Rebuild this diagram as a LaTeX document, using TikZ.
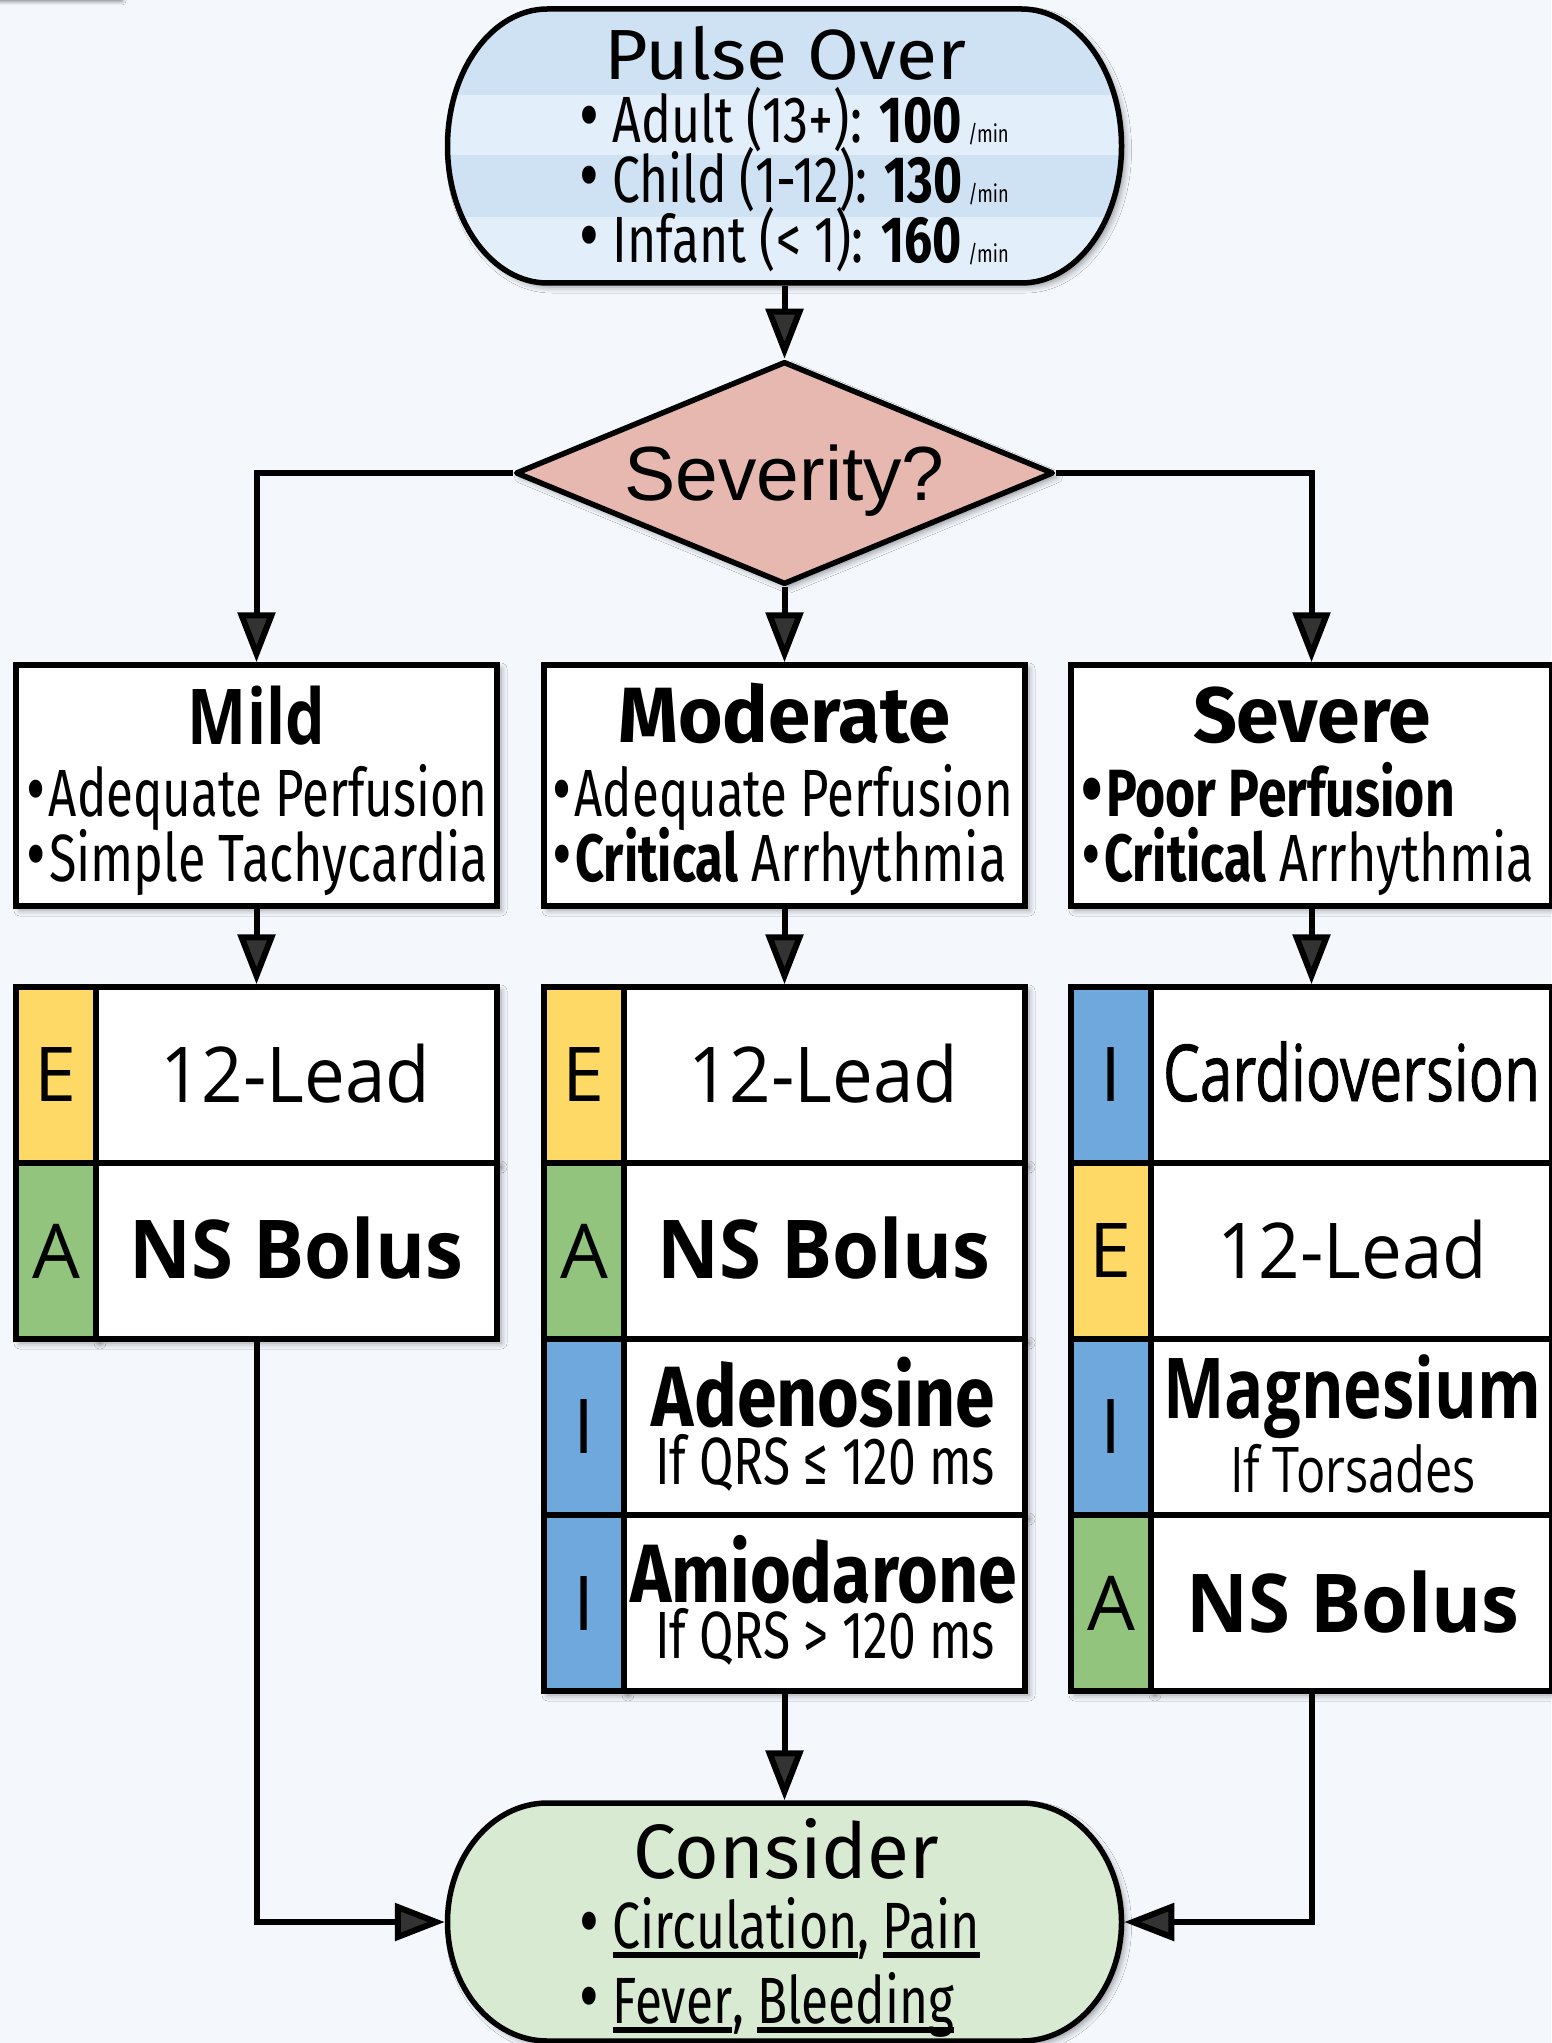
\documentclass[tikz,border=0pt]{standalone}
\usepackage{fontspec}
\usepackage{graphicx}
\usetikzlibrary{arrows.meta,shapes.geometric,shadows.blur}
\newfontfamily\fira{Fira Sans}
\newfontfamily\noto{Open Sans}
\newfontfamily\arialn{Liberation Sans}
\definecolor{bg}{HTML}{F4F8FD}
\definecolor{pdark}{HTML}{CFE2F3}
\definecolor{plight}{HTML}{E2EEF9}
\definecolor{diam}{HTML}{E6B8AF}
\definecolor{cgreen}{HTML}{D9EAD3}
\definecolor{yel}{HTML}{FFD966}
\definecolor{grn}{HTML}{93C47D}
\definecolor{blu}{HTML}{6FA8DC}
% squeeze/stretch a line to a given width, keeping its height
\newcommand\fitto[2]{\resizebox{#1}{\height}{#2}}
\newcommand\fsz[1]{\fontsize{#1}{#1}\selectfont}
\newcommand\ulin[1]{\setbox0=\hbox{#1}\rlap{\rule[-5pt]{\wd0}{3pt}}\box0}
\newcommand\bul{\smash{\fsz{40pt}•}}
\begin{document}
\begin{tikzpicture}[x=0.5pt, y=-0.5pt, line width=2.75pt,
  shad/.style={blur shadow={shadow xshift=2pt, shadow yshift=-2pt, shadow blur radius=3pt, shadow opacity=40}},
  hdr/.style={draw, fill=white, minimum width=240.5pt, minimum height=120.5pt, inner sep=0, shad},
  lcell/.style={draw, minimum width=40pt, minimum height=88pt, inner sep=0, shad, font={\noto\fsz{37.8pt}}},
  tcell/.style={draw, fill=white, minimum width=200.5pt, minimum height=88pt, inner sep=0, shad},
  lbl/.style={inner sep=0, anchor=base},
  lbll/.style={inner sep=0, anchor=base west},
  ghost/.style={inner sep=0, draw=none, fill=none},
  flow/.style={line width=3pt, -{Triangle[length=25pt, width=18.5pt]}}]

\useasboundingbox (0,0) rectangle (1551,2043);
\fill[bg] (0,0) rectangle (1551,2043);
% shadow strip along the top edge
\path[blur shadow={shadow xshift=0pt, shadow yshift=-1.5pt, shadow blur radius=2pt, shadow opacity=55}] (-40,-40) rectangle (122,-2);

% ---------- start terminal ----------
\node[ghost, minimum width=337pt, minimum height=137pt] (pulse) at (784.5,146) {};
\path[shad, fill=pdark] (547.5,9) -- (1021.5,9) arc[start angle=90, end angle=-90, x radius=50pt, y radius=68.5pt]
  -- (547.5,283) arc[start angle=270, end angle=90, x radius=50pt, y radius=68.5pt] -- cycle;
\begin{scope}
  \clip (547.5,9) -- (1021.5,9) arc[start angle=90, end angle=-90, x radius=50pt, y radius=68.5pt]
    -- (547.5,283) arc[start angle=270, end angle=90, x radius=50pt, y radius=68.5pt] -- cycle;
  \fill[plight] (430,95) rectangle (1140,155);
  \fill[plight] (430,217) rectangle (1140,300);
\end{scope}
\draw (547.5,9) -- (1021.5,9) arc[start angle=90, end angle=-90, x radius=50pt, y radius=68.5pt]
  -- (547.5,283) arc[start angle=270, end angle=90, x radius=50pt, y radius=68.5pt] -- cycle;
\node[lbl] (pTitle) at (785,80) {\fitto{181pt}{\fira\fsz{35.5pt}Pulse Over}};
\node[lbll] (pAdult) at (577,143) {\fitto{214.5pt}{\fira\fsz{32.7pt}\bul{} Adult (13+): {\bfseries 100}\kern4pt{\fsz{12pt}/min}}};
\node[lbll] (pChild) at (577,203) {\fitto{214.5pt}{\fira\fsz{32.7pt}\bul{} Child (1-12): {\bfseries 130}\kern4pt{\fsz{12pt}/min}}};
\node[lbll] (pInfant) at (577,263) {\fitto{214.5pt}{\fira\fsz{32.7pt}\bul{} Infant (< 1): {\bfseries 160}\kern4pt{\fsz{12pt}/min}}};

% ---------- decision ----------
\node[draw, shape=diamond, fill=diam, line join=round, minimum width=269pt, minimum height=111.5pt, inner sep=0, shad] (sev) at (784.5,473) {};
\node[lbl] (sevq) at (784.5,501) {\fitto{160pt}{\arialn\fsz{38.4pt}Severity?}};

% ---------- severity headers ----------
\node[hdr] (mild) at (256.5,785.5) {};
\node[hdr] (mod) at (784.5,785.5) {};
\node[hdr] (sevr) at (1311.5,785.5) {};

\node[lbl] (mildH) at (256.5,744) {\fitto{68.5pt}{\noto\bfseries\fsz{38.5pt}Mild}};
\node[lbll] (mildL1) at (24,816) {\fitto{230.5pt}{\fira\fsz{33.4pt}\bul\kern2pt Adequate Perfusion}};
\node[lbll] (mildL2) at (24,881) {\fitto{230.5pt}{\fira\fsz{33.4pt}\bul\kern2pt Simple Tachycardia}};

\node[lbl] (modH) at (784.5,742) {\fitto{166pt}{\fira\bfseries\fsz{39.2pt}Moderate}};
\node[lbll] (modL1) at (550,816) {\fitto{230pt}{\fira\fsz{33.4pt}\bul\kern2pt Adequate Perfusion}};
\node[lbll] (modL2) at (550,881) {\fitto{227pt}{\fira\fsz{33.4pt}\bul\kern2pt{\bfseries Critical} Arrhythmia}};

\node[lbl] (sevH) at (1312,742) {\fitto{119pt}{\fira\bfseries\fsz{39.2pt}Severe}};
\node[lbll] (sevL1) at (1079,816) {\fitto{186.5pt}{\fira\bfseries\fsz{33.4pt}\bul\kern2pt Poor Perfusion}};
\node[lbll] (sevL2) at (1079,881) {\fitto{226pt}{\fira\fsz{33.4pt}\bul\kern2pt{\bfseries Critical} Arrhythmia}};

% ---------- mild actions ----------
\node[lcell, fill=yel] (mildE1) at (56,1075) {E};
\node[tcell] (mildC1) at (296.5,1075) {};
\node[lcell, fill=grn] (mildE2) at (56,1251) {A};
\node[tcell] (mildC2) at (296.5,1251) {};
\node[lbl] (mildT1) at (295,1102) {\fitto{135pt}{\noto\fsz{38.5pt}12-Lead}};
\node[lbl] (mildT2) at (296.5,1278) {\fitto{166.5pt}{\noto\bfseries\fsz{40.6pt}NS Bolus}};

% ---------- moderate actions ----------
\node[lcell, fill=yel] (modE1) at (584,1075) {E};
\node[tcell] (modC1) at (824.5,1075) {};
\node[lcell, fill=grn] (modE2) at (584,1251) {A};
\node[tcell] (modC2) at (824.5,1251) {};
\node[lcell, fill=blu] (modE3) at (584,1427) {I};
\node[tcell] (modC3) at (824.5,1427) {};
\node[lcell, fill=blu] (modE4) at (584,1603) {I};
\node[tcell] (modC4) at (824.5,1603) {};
\node[lbl] (modT1) at (823,1102) {\fitto{135pt}{\noto\fsz{38.5pt}12-Lead}};
\node[lbl] (modT2) at (824,1278) {\fitto{166.5pt}{\noto\bfseries\fsz{40.6pt}NS Bolus}};
\node[lbl] (modT3a) at (823.5,1426) {\fitto{171.5pt}{\fira\bfseries\fsz{42.8pt}Adenosine}};
\node[lbl] (modT3b) at (825,1484) {\fitto{170pt}{\fira\fsz{33.4pt}If QRS ≤ 120 ms}};
\node[lbl] (modT4a) at (823.5,1602) {\fitto{193.5pt}{\fira\bfseries\fsz{41.4pt}Amiodarone}};
\node[lbl] (modT4b) at (825,1658) {\fitto{170pt}{\fira\fsz{33.4pt}If QRS > 120 ms}};

% ---------- severe actions ----------
\node[lcell, fill=blu] (sevE1) at (1111,1075) {I};
\node[tcell] (sevC1) at (1351.5,1075) {};
\node[lcell, fill=yel] (sevE2) at (1111,1251) {E};
\node[tcell] (sevC2) at (1351.5,1251) {};
\node[lcell, fill=blu] (sevE3) at (1111,1427) {I};
\node[tcell] (sevC3) at (1351.5,1427) {};
\node[lcell, fill=grn] (sevE4) at (1111,1603) {A};
\node[tcell] (sevC4) at (1351.5,1603) {};
\node[lbl] (sevT1) at (1351.5,1101) {\fitto{188.5pt}{\noto\addfontfeature{FakeBold=1.2}\fsz{39.2pt}Cardioversion}};
\node[lbl] (sevT2) at (1352,1278) {\fitto{135pt}{\noto\fsz{38.5pt}12-Lead}};
\node[lbl] (sevT3a) at (1352.5,1418) {\fitto{189pt}{\noto\bfseries\fsz{42pt}Magnesium}};
\node[lbl] (sevT3b) at (1353,1492) {\fitto{123pt}{\noto\fsz{31.5pt}If Torsades}};
\node[lbl] (sevT4) at (1353,1632) {\fitto{166.5pt}{\noto\bfseries\fsz{40.6pt}NS Bolus}};

% ---------- end terminal ----------
\node[ghost, minimum width=337pt, minimum height=119pt] (cons) at (784.5,1922) {};
\path[shad, fill=cgreen, draw] (547.5,1803) -- (1021.5,1803) arc[start angle=90, end angle=-90, x radius=50pt, y radius=59.5pt]
  -- (547.5,2041) arc[start angle=270, end angle=90, x radius=50pt, y radius=59.5pt] -- cycle;
\node[lbl] (cTitle) at (786,1878) {\fitto{153pt}{\fira\fsz{38.5pt}Consider}};
\node[lbll] (cL1) at (577,1948) {\fitto{200pt}{\fira\fsz{32.7pt}\bul{} \ulin{Circulation}, \ulin{Pain}}};
\node[lbll] (cL2) at (577,2023) {\fitto{187pt}{\fira\fsz{32.7pt}\bul{} \ulin{Fever}, \ulin{Bleeding}}};

% ---------- connectors ----------
\draw[flow] (pulse.south) -- (sev.north);
\draw[flow] (sev.west) -| (mild.north);
\draw[flow] (sev.south) -- (mod.north);
\draw[flow] (sev.east) -| (sevr.north);
\draw[flow] (mild.south) -- (mild.south |- mildC1.north);
\draw[flow] (mod.south) -- (mod.south |- modC1.north);
\draw[flow] (sevr.south) -- (sevr.south |- sevC1.north);
\draw[flow] (mildC2.south -| mild.south) |- (cons.west);
\draw[flow] (modC4.south -| mod.south) -- (cons.north);
\draw[flow] (sevC4.south -| sevr.south) |- (cons.east);
\end{tikzpicture}
\end{document}
